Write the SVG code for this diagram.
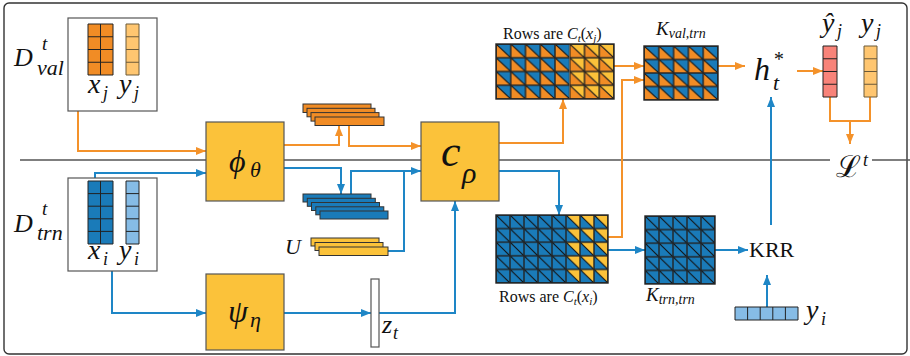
<svg xmlns="http://www.w3.org/2000/svg" width="910" height="356" viewBox="0 0 910 356">
<style>
.frame{fill:#fff;stroke:#333;stroke-width:1.4}
.box{fill:#fff;stroke:#555;stroke-width:1.2}
.node{fill:#FBC23A;stroke:#555;stroke-width:1.2}
.or{fill:none;stroke:#F4922A;stroke-width:2}
.bl{fill:none;stroke:#1E86C6;stroke-width:2}
.m{font-family:'Liberation Serif',serif;font-style:italic;fill:#111}
.r{font-family:'Liberation Serif',serif;fill:#111}
.grid{fill:none;stroke:#222;stroke-width:1}
.gridl{fill:none;stroke:#6b5a3a;stroke-width:1}
.bar{stroke:#333;stroke-width:1}
.mat{fill:none;stroke:#222;stroke-width:1.4}
.shadow{stroke:url(#sh);stroke-width:3}
</style>
<defs>
<marker id="ao" viewBox="0 0 10 8" refX="10" refY="4" markerWidth="10" markerHeight="8" markerUnits="userSpaceOnUse" orient="auto"><path d="M0,0 L10,4 L0,8 z" fill="#F4922A"/></marker>
<marker id="ab" viewBox="0 0 10 8" refX="10" refY="4" markerWidth="10" markerHeight="8" markerUnits="userSpaceOnUse" orient="auto"><path d="M0,0 L10,4 L0,8 z" fill="#1E86C6"/></marker>
<linearGradient id="sh" x1="0" x2="1" y1="0" y2="0"><stop offset="0" stop-color="#ccc" stop-opacity="0"/><stop offset="0.2" stop-color="#bbb"/><stop offset="0.8" stop-color="#bbb"/><stop offset="1" stop-color="#ccc" stop-opacity="0"/></linearGradient>
<pattern id="pCa" x="496" y="44" width="14.75" height="13.75" patternUnits="userSpaceOnUse">
<path d="M0,0 L0,13.75 L14.75,13.75 Z" fill="#F18C25"/><path d="M0,0 L14.75,0 L14.75,13.75 Z" fill="#1A7BB9"/><path d="M0,0 L14.75,13.75" stroke="#111" stroke-width="1.1"/><rect width="14.75" height="13.75" fill="none" stroke="#222" stroke-width="1.4"/></pattern>
<pattern id="pCb" x="496" y="44" width="14.75" height="13.75" patternUnits="userSpaceOnUse">
<path d="M0,0 L0,13.75 L14.75,13.75 Z" fill="#F18C25"/><path d="M0,0 L14.75,0 L14.75,13.75 Z" fill="#FBC23A"/><path d="M0,0 L14.75,13.75" stroke="#111" stroke-width="1.1"/><rect width="14.75" height="13.75" fill="none" stroke="#222" stroke-width="1.4"/></pattern>
<pattern id="pDa" x="496" y="215" width="14" height="13.6" patternUnits="userSpaceOnUse">
<rect width="14" height="13.6" fill="#1A7BB9"/><path d="M0,0 L14,13.6" stroke="#111" stroke-width="1.1"/><rect width="14" height="13.6" fill="none" stroke="#222" stroke-width="1.4"/></pattern>
<pattern id="pDb" x="496" y="215" width="14" height="13.6" patternUnits="userSpaceOnUse">
<path d="M0,0 L0,13.6 L14,13.6 Z" fill="#1A7BB9"/><path d="M0,0 L14,0 L14,13.6 Z" fill="#FBC23A"/><path d="M0,0 L14,13.6" stroke="#111" stroke-width="1.1"/><rect width="14" height="13.6" fill="none" stroke="#222" stroke-width="1.4"/></pattern>
<pattern id="pKv" x="644" y="46" width="14.8" height="13.5" patternUnits="userSpaceOnUse">
<path d="M0,0 L0,13.5 L14.8,13.5 Z" fill="#F18C25"/><path d="M0,0 L14.8,0 L14.8,13.5 Z" fill="#1A7BB9"/><path d="M0,0 L14.8,13.5" stroke="#111" stroke-width="1.1"/><rect width="14.8" height="13.5" fill="none" stroke="#222" stroke-width="1.4"/></pattern>
<pattern id="pKt" x="645" y="216" width="14" height="13.6" patternUnits="userSpaceOnUse">
<rect width="14" height="13.6" fill="#1A7BB9"/><path d="M0,0 L14,13.6" stroke="#111" stroke-width="1.1"/><rect width="14" height="13.6" fill="none" stroke="#222" stroke-width="1.4"/></pattern>
</defs>

<rect class="frame" x="4" y="3" width="903" height="351" rx="5"/>
<path d="M20,160 H830 M872,160 H910" stroke="#555" stroke-width="1.3" fill="none"/>

<g id="connectors">
<path class="or" d="M88,50 H78 V151 H206" marker-end="url(#ao)"/>
<path class="or" d="M284,145 H339 V126" marker-end="url(#ao)"/>
<path class="or" d="M349,126 V146 H421" marker-end="url(#ao)"/>
<path class="or" d="M499,143 H563 V99" marker-end="url(#ao)"/>
<path class="or" d="M614,66 H644" marker-end="url(#ao)"/>
<path class="or" d="M608,237 H622 V80 H644" marker-end="url(#ao)"/>
<path class="or" d="M718,66 H745" marker-end="url(#ao)"/>
<path class="or" d="M797,71 H823" marker-end="url(#ao)"/>
<path class="or" d="M830,97 V121 H870 V97"/>
<path class="or" d="M850,121 V144" marker-end="url(#ao)"/>
<path class="bl" d="M95,181 V173 H206" marker-end="url(#ab)"/>
<path class="bl" d="M112,271 V313 H206" marker-end="url(#ab)"/>
<path class="bl" d="M284,168 H341 V194" marker-end="url(#ab)"/>
<path class="bl" d="M351,194 V171 H421" marker-end="url(#ab)"/>
<path class="bl" d="M388,251 H404 V171"/>
<path class="bl" d="M284,313 H371" marker-end="url(#ab)"/>
<path class="bl" d="M379,313 H455 V201" marker-end="url(#ab)"/>
<path class="bl" d="M499,171 H559 V215" marker-end="url(#ab)"/>
<path class="bl" d="M608,250 H645" marker-end="url(#ab)"/>
<path class="bl" d="M715,250 H748" marker-end="url(#ab)"/>
<path class="bl" d="M771,225 V97" marker-end="url(#ab)"/>
<path class="bl" d="M767,307 V275" marker-end="url(#ab)"/>
</g>

<g id="Dval">
<rect class="box" x="68" y="18" width="89" height="93"/>
<rect x="88" y="24" width="25" height="51" fill="#F18C25"/>
<path class="grid" d="M88,24 h25 v51 h-25 z M100.5,24 V75 M88,36.75 H113 M88,49.5 H113 M88,62.25 H113"/>
<rect x="126" y="24" width="13" height="51" fill="#FFC670"/>
<path class="gridl" d="M126,24 h13 v51 h-13 z M126,36.75 H139 M126,49.5 H139 M126,62.25 H139"/>
<text class="m" x="88" y="93" font-size="28">x</text><text class="m" x="103" y="99" font-size="18">j</text>
<text class="m" x="119" y="93" font-size="28">y</text><text class="m" x="134" y="99" font-size="18">j</text>
<text class="m" x="14" y="66" font-size="26">D</text><text class="m" x="42" y="50" font-size="19">t</text><text class="m" x="37" y="75" font-size="22">val</text>
</g>

<g id="Dtrn">
<rect class="box" x="68" y="178" width="89" height="93"/>
<rect x="88" y="181" width="25" height="63" fill="#1A7BB9"/>
<path class="grid" d="M88,181 h25 v63 h-25 z M100.5,181 V244 M88,193.6 H113 M88,206.2 H113 M88,218.8 H113 M88,231.4 H113"/>
<rect x="126" y="181" width="13" height="63" fill="#86BCE6"/>
<path class="grid" d="M126,181 h13 v63 h-13 z M126,193.6 H139 M126,206.2 H139 M126,218.8 H139 M126,231.4 H139"/>
<text class="m" x="88" y="259" font-size="28">x</text><text class="m" x="103" y="265" font-size="18">i</text>
<text class="m" x="119" y="259" font-size="28">y</text><text class="m" x="134" y="265" font-size="18">i</text>
<text class="m" x="14" y="232" font-size="26">D</text><text class="m" x="42" y="215" font-size="19">t</text><text class="m" x="37" y="240" font-size="22">trn</text>
</g>

<g id="phi">
<rect class="node" x="206" y="122" width="78" height="79"/>
<text class="m" x="229" y="172" font-size="32">ϕ</text><text class="m" x="250" y="177" font-size="22">θ</text>
</g>

<g id="psi">
<rect class="node" x="206" y="274" width="78" height="76"/>
<text class="m" x="228" y="322" font-size="32">ψ</text><text class="m" x="250" y="327" font-size="22">η</text>
</g>

<g id="crho">
<rect class="node" x="421" y="122" width="78" height="79"/>
<text class="m" x="441" y="166" font-size="44">c</text><text class="m" x="462" y="183" font-size="30">ρ</text>
</g>

<g id="orangeStack">
<rect class="bar" x="303" y="104" width="68" height="8.5" fill="#F18C25"/>
<rect class="bar" x="307" y="108.3" width="68" height="8.5" fill="#F18C25"/>
<rect class="bar" x="311" y="112.6" width="68" height="8.5" fill="#F18C25"/>
<rect class="bar" x="315" y="117" width="69" height="8.5" fill="#F18C25"/>
</g>

<g id="blueStack">
<rect class="bar" x="303" y="194" width="68" height="8" fill="#1A7BB9"/>
<rect class="bar" x="307.3" y="198.3" width="68" height="8" fill="#1A7BB9"/>
<rect class="bar" x="311.5" y="202.5" width="68" height="8" fill="#1A7BB9"/>
<rect class="bar" x="315.8" y="206.8" width="68" height="8" fill="#1A7BB9"/>
<rect class="bar" x="320" y="211" width="68" height="8" fill="#1A7BB9"/>
</g>

<g id="U">
<rect class="bar" x="311" y="238" width="68" height="8" fill="#FBC23A"/>
<rect class="bar" x="315" y="242.5" width="68" height="8" fill="#FBC23A"/>
<rect class="bar" x="319" y="247" width="69" height="8.5" fill="#FBC23A"/>
<text class="m" x="285" y="254" font-size="22">U</text>
</g>

<g id="zt">
<rect x="371" y="279" width="8" height="68" fill="#fff" stroke="#555" stroke-width="1.2"/>
<text class="m" x="382" y="333" font-size="26">z</text><text class="m" x="393" y="339" font-size="18">t</text>
</g>

<g id="Cval">
<rect x="496" y="44" width="73.75" height="55" fill="url(#pCa)"/>
<rect x="569.75" y="44" width="44.25" height="55" fill="url(#pCb)"/>
<rect class="mat" x="496" y="44" width="118" height="55"/>
<text class="r" x="503" y="39" font-size="16">Rows are <tspan font-style="italic">C</tspan><tspan font-style="italic" font-size="11" dy="3">t</tspan><tspan dy="-3">(</tspan><tspan font-style="italic">x</tspan><tspan font-style="italic" font-size="11" dy="3">j</tspan><tspan dy="-3">)</tspan></text>
</g>

<g id="Ctrn">
<rect x="496" y="215" width="70" height="68" fill="url(#pDa)"/>
<rect x="566" y="215" width="42" height="68" fill="url(#pDb)"/>
<rect class="mat" x="496" y="215" width="112" height="68"/>
<text class="r" x="499" y="302" font-size="16">Rows are <tspan font-style="italic">C</tspan><tspan font-style="italic" font-size="11" dy="3">t</tspan><tspan dy="-3">(</tspan><tspan font-style="italic">x</tspan><tspan font-style="italic" font-size="11" dy="3">i</tspan><tspan dy="-3">)</tspan></text>
</g>

<g id="Kval">
<rect x="644" y="46" width="74" height="54" fill="url(#pKv)"/>
<rect class="mat" x="644" y="46" width="74" height="54"/>
<text class="m" x="656" y="35" font-size="19">K<tspan font-size="14" dy="3">val,trn</tspan></text>
</g>

<g id="Ktrn">
<rect x="645" y="216" width="70" height="68" fill="url(#pKt)"/>
<rect class="mat" x="645" y="216" width="70" height="68"/>
<text class="m" x="646" y="301" font-size="19">K<tspan font-size="14" dy="3">trn,trn</tspan></text>
</g>

<g id="hstar">
<text class="m" x="754" y="80" font-size="32">h</text><text class="m" x="773" y="66" font-size="20">*</text><text class="m" x="773" y="90" font-size="22">t</text>
<line class="shadow" x1="748" y1="97" x2="795" y2="97"/>
</g>

<g id="KRR">
<text class="r" x="749" y="257" font-size="22">KRR</text>
<line class="shadow" x1="748" y1="274" x2="795" y2="274"/>
</g>

<g id="yhat">
<rect x="823" y="46" width="14" height="51" fill="#F88379"/>
<path class="grid" d="M823,46 h14 v51 h-14 z M823,58.75 H837 M823,71.5 H837 M823,84.25 H837"/>
<text class="m" x="822" y="32" font-size="28">ŷ</text><text class="m" x="837" y="37" font-size="18">j</text>
</g>

<g id="yj">
<rect x="864" y="46" width="13" height="51" fill="#FFC670"/>
<path class="gridl" d="M864,46 h13 v51 h-13 z M864,58.75 H877 M864,71.5 H877 M864,84.25 H877"/>
<text class="m" x="861" y="32" font-size="28">y</text><text class="m" x="876" y="37" font-size="18">j</text>
</g>

<g id="loss">
<text x="836" y="177" font-size="30" font-family="DejaVu Serif,serif" fill="#111">ℒ</text><text class="m" x="863" y="166" font-size="18">t</text>
<line class="shadow" x1="832" y1="187" x2="870" y2="187"/>
</g>

<g id="yi">
<rect x="735" y="307" width="63" height="13" fill="#86BCE6"/>
<path class="grid" d="M735,307 h63 v13 h-63 z M747.6,307 V320 M760.2,307 V320 M772.8,307 V320 M785.4,307 V320"/>
<text class="m" x="806" y="319" font-size="28">y</text><text class="m" x="821" y="325" font-size="18">i</text>
</g>
</svg>
